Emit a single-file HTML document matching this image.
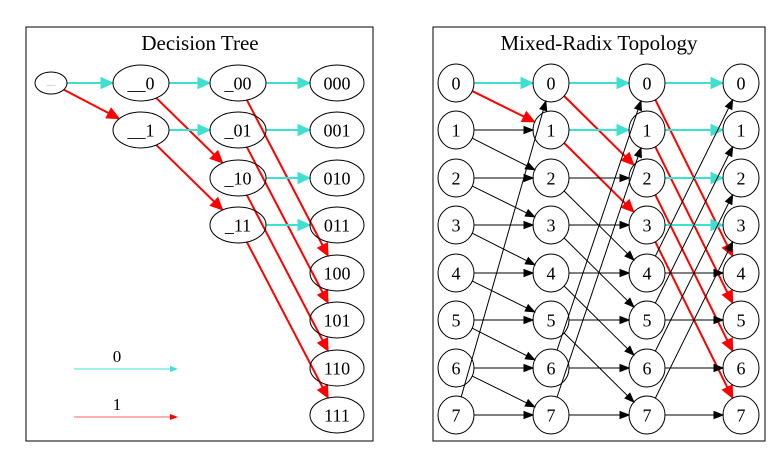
<!DOCTYPE html>
<html><head><meta charset="utf-8"><style>
html,body{margin:0;padding:0;background:#fff;width:777px;height:467px;overflow:hidden}
svg text{font-family:"Liberation Serif","DejaVu Serif",serif !important;}
</style></head><body>
<svg id="svg" width="777" height="467" xmlns="http://www.w3.org/2000/svg" font-family="Liberation Serif, serif">
<rect x="26" y="27" width="347" height="414" fill="none" stroke="#000" stroke-width="1"/>
<rect x="433" y="27" width="332" height="414" fill="none" stroke="#000" stroke-width="1"/>
<text x="200" y="50" font-size="21" text-anchor="middle">Decision Tree</text>
<text x="599" y="50" font-size="21" text-anchor="middle">Mixed-Radix Topology</text>
<g id="edges"></g><g id="nodes"></g>
<text x="117" y="362" font-size="17" text-anchor="middle">0</text>
<text x="117" y="410" font-size="17" text-anchor="middle">1</text>
</svg>
<script>
const NS='http://www.w3.org/2000/svg';
const rowsY=[83,130,178,225,273,320,368,415];
const treeCols=[141,238,337];
const topoCols=[456,551,647,741];
const treeNodes=[["__0",0,0],["__1",0,1],["_00",1,0],["_01",1,1],["_10",1,2],["_11",1,3],
 ["000",2,0],["001",2,1],["010",2,2],["011",2,3],["100",2,4],["101",2,5],["110",2,6],["111",2,7]];
const treeEdges=[["root","__0",0],["root","__1",1],["__0","_00",0],["__0","_10",1],["__1","_01",0],["__1","_11",1],
 ["_00","000",0],["_00","100",1],["_01","001",0],["_01","101",1],["_10","010",0],["_10","110",1],["_11","011",0],["_11","111",1]];
const strides=[1,2,4];
const COL={0:'#40e0d0',1:'#ff0000',2:'#000'};
const edgesG=document.getElementById('edges'),nodesG=document.getElementById('nodes');
function mk(t,a,p){const e=document.createElementNS(NS,t);for(const k in a)e.setAttribute(k,a[k]);(p||edgesG).appendChild(e);return e;}
function edge(x1,y1,rx1,ry1,x2,y2,rx2,ry2,kind,name){
 const dx=x2-x1,dy=y2-y1,L=Math.hypot(dx,dy),ux=dx/L,uy=dy/L;
 const t1=1/Math.sqrt((ux*ux)/(rx1*rx1)+(uy*uy)/(ry1*ry1));
 const t2=1/Math.sqrt((ux*ux)/(rx2*rx2)+(uy*uy)/(ry2*ry2));
 const sx=x1+ux*t1,sy=y1+uy*t1,ex=x2-ux*t2,ey=y2-uy*t2;
 const ah=kind==2?9:12,aw=kind==2?3.5:5.5,w=kind==2?1:2;
 const bx=ex-ux*ah,by=ey-uy*ah;
 const l=mk('line',{x1:sx,y1:sy,x2:bx,y2:by,stroke:COL[kind],'stroke-width':w});
 
 
 const p=mk('polygon',{points:`${ex},${ey} ${bx-uy*aw},${by+ux*aw} ${bx+uy*aw},${by-ux*aw}`,fill:COL[kind],stroke:COL[kind]});
 
 
}
function node(x,y,rx,ry,label,fs,name){
 const e=mk('ellipse',{cx:x,cy:y,rx:rx,ry:ry,fill:'none',stroke:'#000'},nodesG);
 
 
 const t=mk('text',{x:x,y:y+fs*0.35,'font-size':fs,'text-anchor':'middle','font-family':'Liberation Serif, serif',fill:label==='___'?'#888':'#000'},nodesG);
 t.textContent=label;
 
 
}
const pos={root:[51,83,16,11]};
treeNodes.forEach(n=>{pos[n[0]]=[treeCols[n[1]],rowsY[n[2]],n[1]==2?27:28,18];});
treeEdges.forEach(e=>{const a=pos[e[0]],b=pos[e[1]];edge(a[0],a[1],a[2],a[3],b[0],b[1],b[2],b[3],e[2],'tree-edge-'+e[0]+'-'+e[1]);});
node(51,83,16,11,'___',6,'tree-node-root');
treeNodes.forEach(n=>{const p=pos[n[0]];node(p[0],p[1],p[2],p[3],n[0],18,'tree-node-'+n[0]);});
[[0,369],[1,417]].forEach(([k,y])=>{
 const l=mk('line',{x1:74,y1:y,x2:172,y2:y,stroke:k?'#ff6060':'#40e0d0','stroke-width':1});
 
 
 const p=mk('polygon',{points:`178,${y} 170,${y-3} 170,${y+3}`,fill:k?'#f00':'#40e0d0'});
 
 
});
strides.forEach((s,c)=>{
 for(let i=0;i<8;i++){
  const straightKind=(i<s)?0:2;
  const jump=(i+s)%8;
  const jumpKind=(i<s && jump>=s && jump<2*s)?1:2;
  [[i,straightKind],[jump,jumpKind]].forEach(([j,k])=>{
   edge(topoCols[c],rowsY[i],18,19,topoCols[c+1],rowsY[j],18,19,k,'topo-edge-c'+c+'-'+i+'-'+j);
  });
 }
});
topoCols.forEach((x,c)=>{for(let i=0;i<8;i++)node(x,rowsY[i],18,19,String(i),18,'topo-node-c'+c+'-'+i);});
</script>
</body></html>
